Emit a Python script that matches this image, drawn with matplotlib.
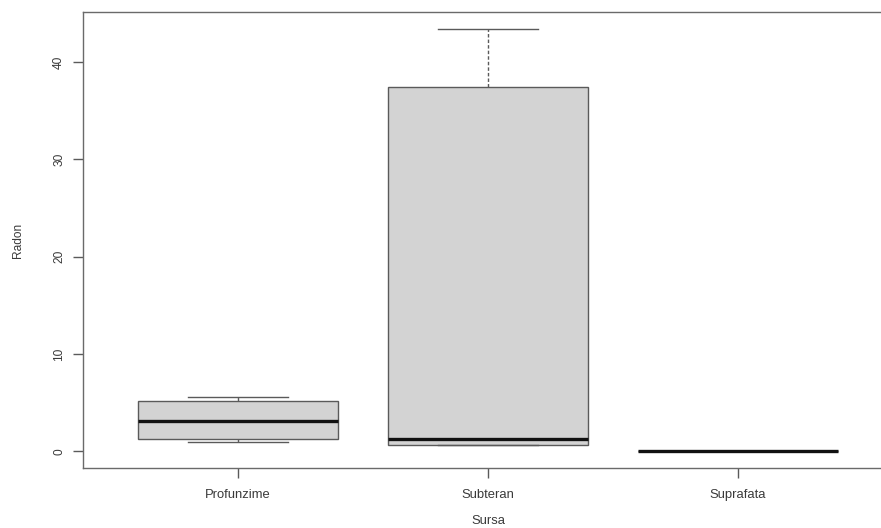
import matplotlib
matplotlib.use("Agg")
import matplotlib.pyplot as plt

plt.rcParams['font.family'] = ['Liberation Sans', 'DejaVu Sans']

# Radon concentration by water source
categories = ["Profunzime", "Subteran", "Suprafata"]
whisker_low = [1.0, 0.7, 0.0]
quartile_1 = [1.3, 0.7, 0.0]
medians = [3.1, 1.3, 0.0]
quartile_3 = [5.2, 37.4, 0.0]
whisker_high = [5.6, 43.4, 0.0]
y_ticks = [0, 10, 20, 30, 40]

stats = [
    dict(label=c, whislo=lo, q1=a, med=m, q3=b, whishi=hi, fliers=[])
    for c, lo, a, m, b, hi in zip(categories, whisker_low, quartile_1,
                                  medians, quartile_3, whisker_high)
]

W, H = 881, 528
fig = plt.figure(figsize=(W / 100, H / 100), dpi=100)
fig.patch.set_facecolor("white")

left, right, top, bottom = 83.3, 893.0, 12.0, 468.3
ax = fig.add_axes([left / W, (H - bottom) / H, (right - left) / W, (bottom - top) / H])

edge = "#5a5a5a"
positions = list(range(1, len(categories) + 1))
ax.bxp(
    stats,
    positions=positions,
    widths=0.8,
    capwidths=0.4,
    patch_artist=True,
    showfliers=False,
    boxprops=dict(facecolor="#d3d3d3", edgecolor=edge, linewidth=1.0),
    whiskerprops=dict(color=edge, linewidth=1.0, linestyle=(0, (2.5, 1.5))),
    capprops=dict(color=edge, linewidth=1.0),
    medianprops=dict(color="#111111", linewidth=2.4, solid_capstyle="butt"),
)

ax.set_xlim(0.38, 3.62)
ax.set_ylim(-1.74, 45.14)

ax.set_xticks(positions)
ax.set_xticklabels(categories, fontsize=9.4, color="#3a3a3a")
ax.set_yticks(y_ticks)
ax.set_yticklabels([str(v) for v in y_ticks], fontsize=8.6, color="#3a3a3a",
                   rotation=90, va="center")

ax.tick_params(axis="both", direction="out", length=7, width=1.0, color=edge)
ax.tick_params(axis="y", pad=6)
ax.tick_params(axis="x", pad=8)

for s in ax.spines.values():
    s.set_color("#6a6a6a")
    s.set_linewidth(1.0)

ax.set_ylabel("Radon", fontsize=8.6, color="#3a3a3a")
ax.yaxis.set_label_coords(-0.073, 0.5)
ax.set_xlabel("Sursa", fontsize=9.4, color="#3a3a3a")
ax.xaxis.set_label_coords(0.5, -0.103)

fig.savefig("out.png", dpi=100, facecolor="white")
